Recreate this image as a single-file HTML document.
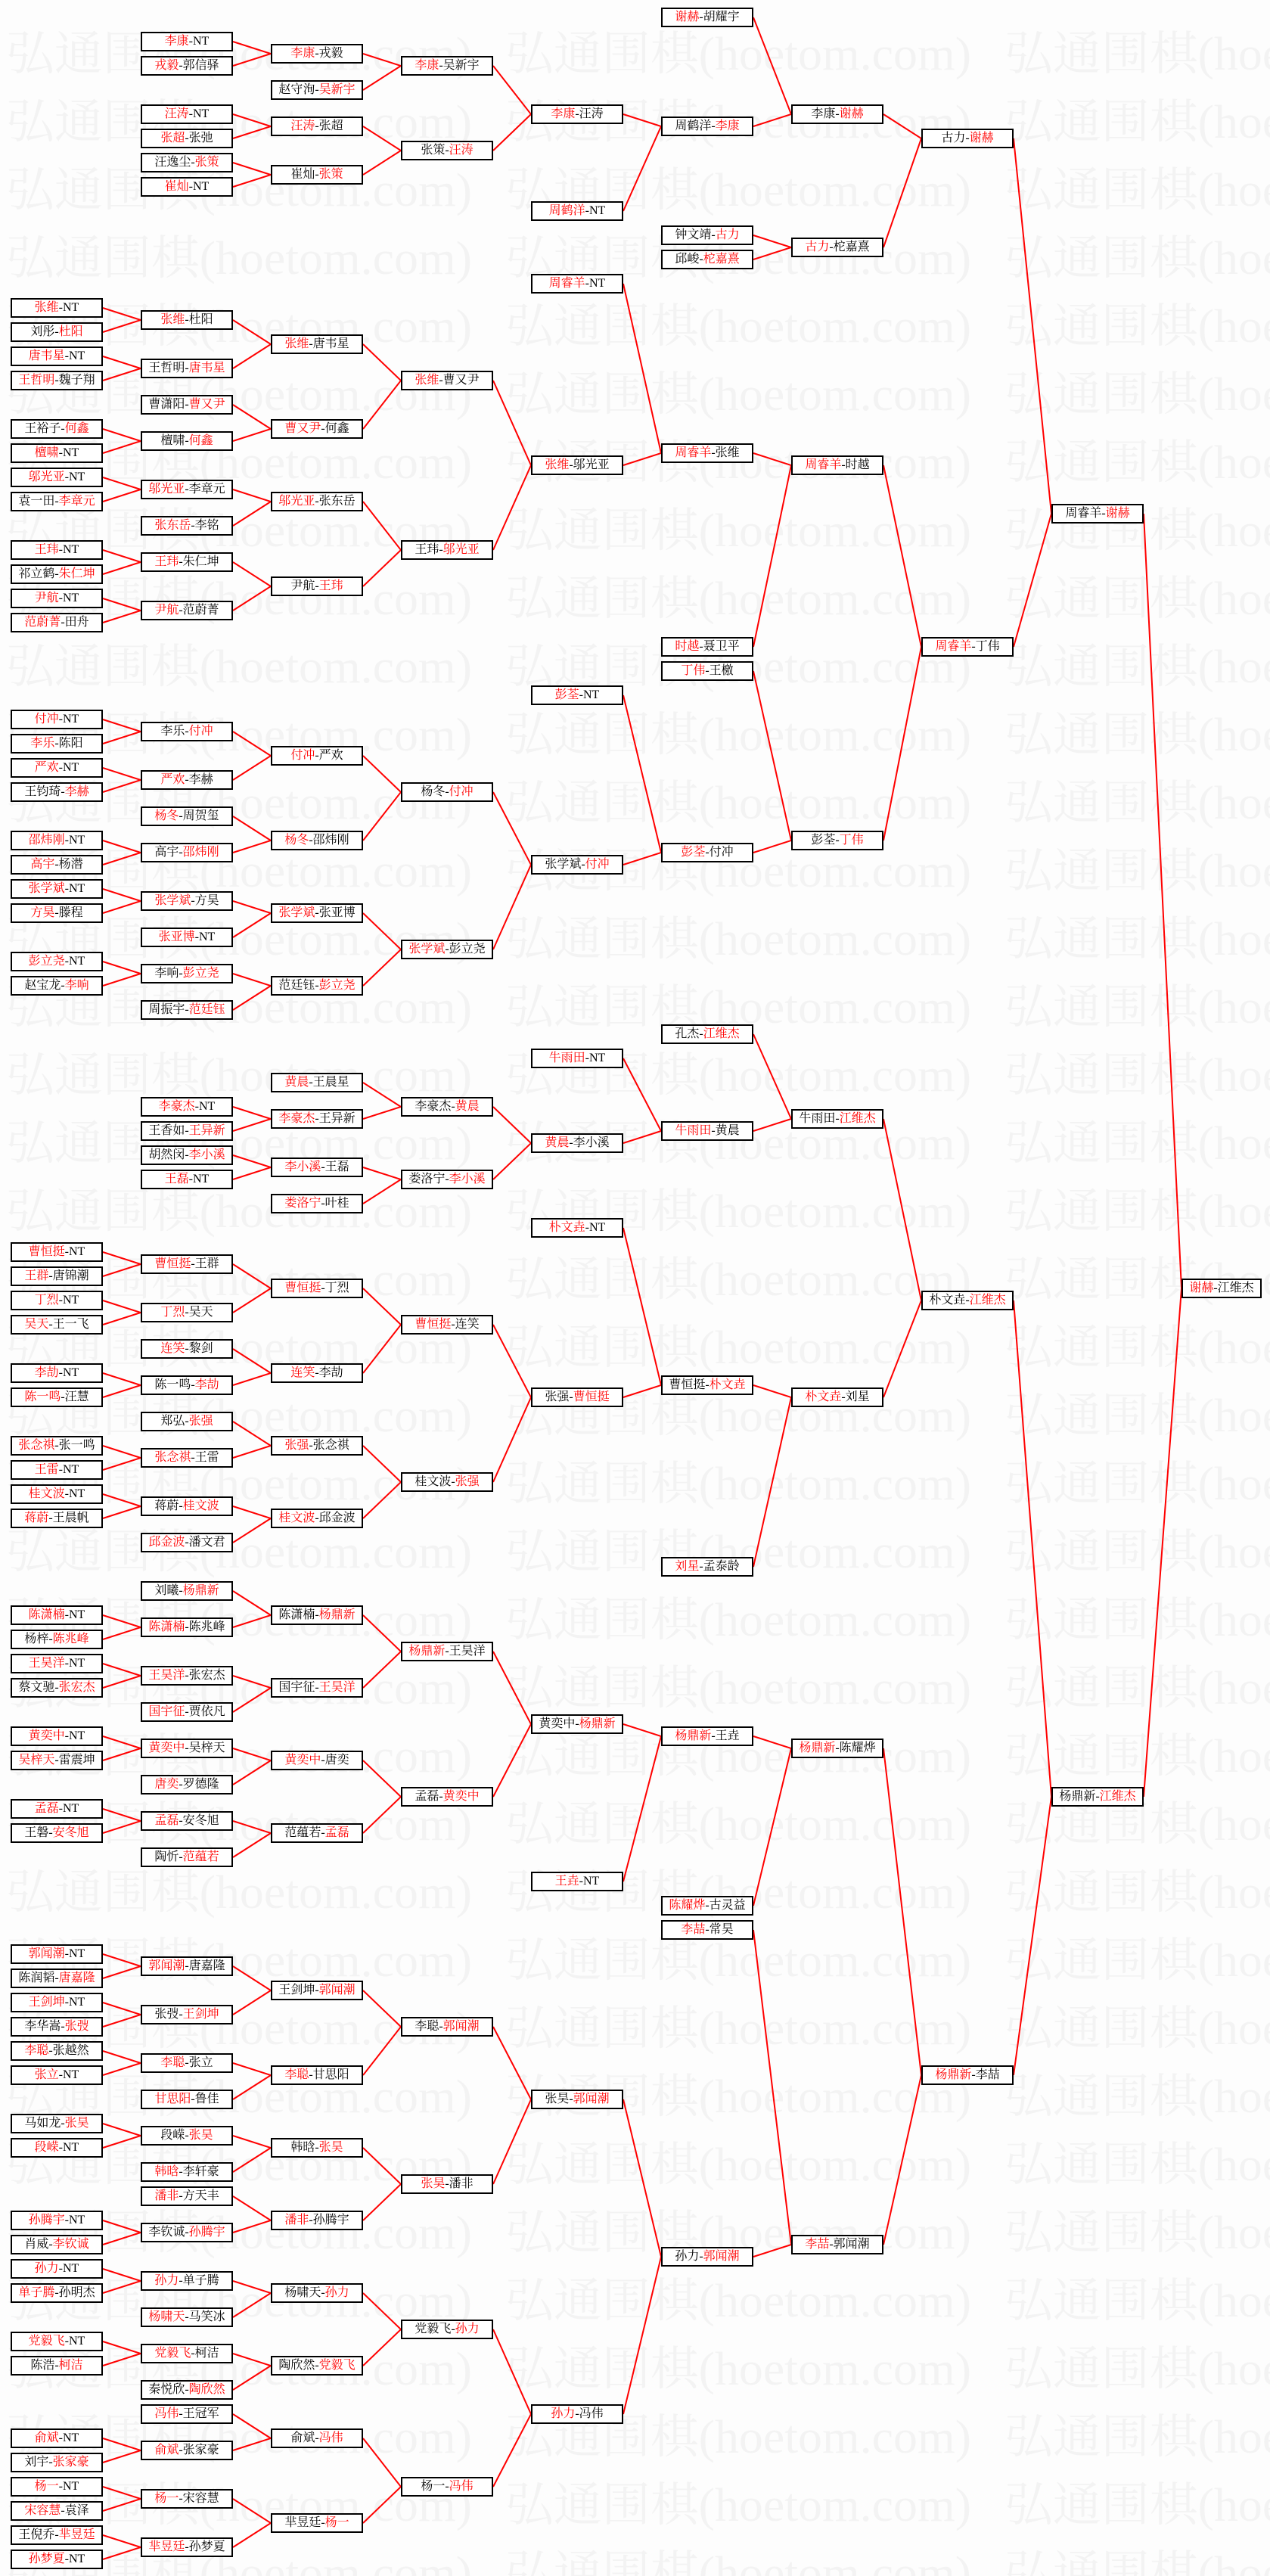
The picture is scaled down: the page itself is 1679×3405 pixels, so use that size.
<!DOCTYPE html>
<html>
<head>
<meta charset="utf-8">
<style>
html,body{margin:0;padding:0}
body{width:1679px;height:3405px;position:relative;background:#fdfdfd;overflow:hidden}
svg{position:absolute;left:0;top:0}
.b{position:absolute;width:122px;height:26px;box-sizing:border-box;border:2px solid #000;background:#fff;font-family:"Liberation Serif","Noto Serif CJK SC",serif;font-size:16px;line-height:22px;text-align:center;white-space:nowrap;color:#000;overflow:hidden}
.b i{font-style:normal;color:#f00}
.c0{left:14px}.c1{left:186px}.c2{left:358px}.c3{left:530px}.c4{left:702px}.c5{left:874px}.c6{left:1046px}.c7{left:1218px}.c8{left:1390px}.c9{left:1562px;width:106px}
.wm text{font-family:"Liberation Serif","Noto Serif CJK SC",serif;font-size:62px;fill:#f3f3f3}
</style>
</head>
<body>
<svg class="wm" width="1679" height="3405">
<text x="8" y="92" textLength="616" lengthAdjust="spacingAndGlyphs">弘通围棋(hoetom.com)</text><text x="668" y="92" textLength="616" lengthAdjust="spacingAndGlyphs">弘通围棋(hoetom.com)</text><text x="1328" y="92" textLength="616" lengthAdjust="spacingAndGlyphs">弘通围棋(hoetom.com)</text>
<text x="8" y="182" textLength="616" lengthAdjust="spacingAndGlyphs">弘通围棋(hoetom.com)</text><text x="668" y="182" textLength="616" lengthAdjust="spacingAndGlyphs">弘通围棋(hoetom.com)</text><text x="1328" y="182" textLength="616" lengthAdjust="spacingAndGlyphs">弘通围棋(hoetom.com)</text>
<text x="8" y="272" textLength="616" lengthAdjust="spacingAndGlyphs">弘通围棋(hoetom.com)</text><text x="668" y="272" textLength="616" lengthAdjust="spacingAndGlyphs">弘通围棋(hoetom.com)</text><text x="1328" y="272" textLength="616" lengthAdjust="spacingAndGlyphs">弘通围棋(hoetom.com)</text>
<text x="8" y="362" textLength="616" lengthAdjust="spacingAndGlyphs">弘通围棋(hoetom.com)</text><text x="668" y="362" textLength="616" lengthAdjust="spacingAndGlyphs">弘通围棋(hoetom.com)</text><text x="1328" y="362" textLength="616" lengthAdjust="spacingAndGlyphs">弘通围棋(hoetom.com)</text>
<text x="8" y="452" textLength="616" lengthAdjust="spacingAndGlyphs">弘通围棋(hoetom.com)</text><text x="668" y="452" textLength="616" lengthAdjust="spacingAndGlyphs">弘通围棋(hoetom.com)</text><text x="1328" y="452" textLength="616" lengthAdjust="spacingAndGlyphs">弘通围棋(hoetom.com)</text>
<text x="8" y="542" textLength="616" lengthAdjust="spacingAndGlyphs">弘通围棋(hoetom.com)</text><text x="668" y="542" textLength="616" lengthAdjust="spacingAndGlyphs">弘通围棋(hoetom.com)</text><text x="1328" y="542" textLength="616" lengthAdjust="spacingAndGlyphs">弘通围棋(hoetom.com)</text>
<text x="8" y="632" textLength="616" lengthAdjust="spacingAndGlyphs">弘通围棋(hoetom.com)</text><text x="668" y="632" textLength="616" lengthAdjust="spacingAndGlyphs">弘通围棋(hoetom.com)</text><text x="1328" y="632" textLength="616" lengthAdjust="spacingAndGlyphs">弘通围棋(hoetom.com)</text>
<text x="8" y="722" textLength="616" lengthAdjust="spacingAndGlyphs">弘通围棋(hoetom.com)</text><text x="668" y="722" textLength="616" lengthAdjust="spacingAndGlyphs">弘通围棋(hoetom.com)</text><text x="1328" y="722" textLength="616" lengthAdjust="spacingAndGlyphs">弘通围棋(hoetom.com)</text>
<text x="8" y="812" textLength="616" lengthAdjust="spacingAndGlyphs">弘通围棋(hoetom.com)</text><text x="668" y="812" textLength="616" lengthAdjust="spacingAndGlyphs">弘通围棋(hoetom.com)</text><text x="1328" y="812" textLength="616" lengthAdjust="spacingAndGlyphs">弘通围棋(hoetom.com)</text>
<text x="8" y="902" textLength="616" lengthAdjust="spacingAndGlyphs">弘通围棋(hoetom.com)</text><text x="668" y="902" textLength="616" lengthAdjust="spacingAndGlyphs">弘通围棋(hoetom.com)</text><text x="1328" y="902" textLength="616" lengthAdjust="spacingAndGlyphs">弘通围棋(hoetom.com)</text>
<text x="8" y="992" textLength="616" lengthAdjust="spacingAndGlyphs">弘通围棋(hoetom.com)</text><text x="668" y="992" textLength="616" lengthAdjust="spacingAndGlyphs">弘通围棋(hoetom.com)</text><text x="1328" y="992" textLength="616" lengthAdjust="spacingAndGlyphs">弘通围棋(hoetom.com)</text>
<text x="8" y="1082" textLength="616" lengthAdjust="spacingAndGlyphs">弘通围棋(hoetom.com)</text><text x="668" y="1082" textLength="616" lengthAdjust="spacingAndGlyphs">弘通围棋(hoetom.com)</text><text x="1328" y="1082" textLength="616" lengthAdjust="spacingAndGlyphs">弘通围棋(hoetom.com)</text>
<text x="8" y="1172" textLength="616" lengthAdjust="spacingAndGlyphs">弘通围棋(hoetom.com)</text><text x="668" y="1172" textLength="616" lengthAdjust="spacingAndGlyphs">弘通围棋(hoetom.com)</text><text x="1328" y="1172" textLength="616" lengthAdjust="spacingAndGlyphs">弘通围棋(hoetom.com)</text>
<text x="8" y="1262" textLength="616" lengthAdjust="spacingAndGlyphs">弘通围棋(hoetom.com)</text><text x="668" y="1262" textLength="616" lengthAdjust="spacingAndGlyphs">弘通围棋(hoetom.com)</text><text x="1328" y="1262" textLength="616" lengthAdjust="spacingAndGlyphs">弘通围棋(hoetom.com)</text>
<text x="8" y="1352" textLength="616" lengthAdjust="spacingAndGlyphs">弘通围棋(hoetom.com)</text><text x="668" y="1352" textLength="616" lengthAdjust="spacingAndGlyphs">弘通围棋(hoetom.com)</text><text x="1328" y="1352" textLength="616" lengthAdjust="spacingAndGlyphs">弘通围棋(hoetom.com)</text>
<text x="8" y="1442" textLength="616" lengthAdjust="spacingAndGlyphs">弘通围棋(hoetom.com)</text><text x="668" y="1442" textLength="616" lengthAdjust="spacingAndGlyphs">弘通围棋(hoetom.com)</text><text x="1328" y="1442" textLength="616" lengthAdjust="spacingAndGlyphs">弘通围棋(hoetom.com)</text>
<text x="8" y="1532" textLength="616" lengthAdjust="spacingAndGlyphs">弘通围棋(hoetom.com)</text><text x="668" y="1532" textLength="616" lengthAdjust="spacingAndGlyphs">弘通围棋(hoetom.com)</text><text x="1328" y="1532" textLength="616" lengthAdjust="spacingAndGlyphs">弘通围棋(hoetom.com)</text>
<text x="8" y="1622" textLength="616" lengthAdjust="spacingAndGlyphs">弘通围棋(hoetom.com)</text><text x="668" y="1622" textLength="616" lengthAdjust="spacingAndGlyphs">弘通围棋(hoetom.com)</text><text x="1328" y="1622" textLength="616" lengthAdjust="spacingAndGlyphs">弘通围棋(hoetom.com)</text>
<text x="8" y="1712" textLength="616" lengthAdjust="spacingAndGlyphs">弘通围棋(hoetom.com)</text><text x="668" y="1712" textLength="616" lengthAdjust="spacingAndGlyphs">弘通围棋(hoetom.com)</text><text x="1328" y="1712" textLength="616" lengthAdjust="spacingAndGlyphs">弘通围棋(hoetom.com)</text>
<text x="8" y="1802" textLength="616" lengthAdjust="spacingAndGlyphs">弘通围棋(hoetom.com)</text><text x="668" y="1802" textLength="616" lengthAdjust="spacingAndGlyphs">弘通围棋(hoetom.com)</text><text x="1328" y="1802" textLength="616" lengthAdjust="spacingAndGlyphs">弘通围棋(hoetom.com)</text>
<text x="8" y="1892" textLength="616" lengthAdjust="spacingAndGlyphs">弘通围棋(hoetom.com)</text><text x="668" y="1892" textLength="616" lengthAdjust="spacingAndGlyphs">弘通围棋(hoetom.com)</text><text x="1328" y="1892" textLength="616" lengthAdjust="spacingAndGlyphs">弘通围棋(hoetom.com)</text>
<text x="8" y="1982" textLength="616" lengthAdjust="spacingAndGlyphs">弘通围棋(hoetom.com)</text><text x="668" y="1982" textLength="616" lengthAdjust="spacingAndGlyphs">弘通围棋(hoetom.com)</text><text x="1328" y="1982" textLength="616" lengthAdjust="spacingAndGlyphs">弘通围棋(hoetom.com)</text>
<text x="8" y="2072" textLength="616" lengthAdjust="spacingAndGlyphs">弘通围棋(hoetom.com)</text><text x="668" y="2072" textLength="616" lengthAdjust="spacingAndGlyphs">弘通围棋(hoetom.com)</text><text x="1328" y="2072" textLength="616" lengthAdjust="spacingAndGlyphs">弘通围棋(hoetom.com)</text>
<text x="8" y="2162" textLength="616" lengthAdjust="spacingAndGlyphs">弘通围棋(hoetom.com)</text><text x="668" y="2162" textLength="616" lengthAdjust="spacingAndGlyphs">弘通围棋(hoetom.com)</text><text x="1328" y="2162" textLength="616" lengthAdjust="spacingAndGlyphs">弘通围棋(hoetom.com)</text>
<text x="8" y="2252" textLength="616" lengthAdjust="spacingAndGlyphs">弘通围棋(hoetom.com)</text><text x="668" y="2252" textLength="616" lengthAdjust="spacingAndGlyphs">弘通围棋(hoetom.com)</text><text x="1328" y="2252" textLength="616" lengthAdjust="spacingAndGlyphs">弘通围棋(hoetom.com)</text>
<text x="8" y="2342" textLength="616" lengthAdjust="spacingAndGlyphs">弘通围棋(hoetom.com)</text><text x="668" y="2342" textLength="616" lengthAdjust="spacingAndGlyphs">弘通围棋(hoetom.com)</text><text x="1328" y="2342" textLength="616" lengthAdjust="spacingAndGlyphs">弘通围棋(hoetom.com)</text>
<text x="8" y="2432" textLength="616" lengthAdjust="spacingAndGlyphs">弘通围棋(hoetom.com)</text><text x="668" y="2432" textLength="616" lengthAdjust="spacingAndGlyphs">弘通围棋(hoetom.com)</text><text x="1328" y="2432" textLength="616" lengthAdjust="spacingAndGlyphs">弘通围棋(hoetom.com)</text>
<text x="8" y="2522" textLength="616" lengthAdjust="spacingAndGlyphs">弘通围棋(hoetom.com)</text><text x="668" y="2522" textLength="616" lengthAdjust="spacingAndGlyphs">弘通围棋(hoetom.com)</text><text x="1328" y="2522" textLength="616" lengthAdjust="spacingAndGlyphs">弘通围棋(hoetom.com)</text>
<text x="8" y="2612" textLength="616" lengthAdjust="spacingAndGlyphs">弘通围棋(hoetom.com)</text><text x="668" y="2612" textLength="616" lengthAdjust="spacingAndGlyphs">弘通围棋(hoetom.com)</text><text x="1328" y="2612" textLength="616" lengthAdjust="spacingAndGlyphs">弘通围棋(hoetom.com)</text>
<text x="8" y="2702" textLength="616" lengthAdjust="spacingAndGlyphs">弘通围棋(hoetom.com)</text><text x="668" y="2702" textLength="616" lengthAdjust="spacingAndGlyphs">弘通围棋(hoetom.com)</text><text x="1328" y="2702" textLength="616" lengthAdjust="spacingAndGlyphs">弘通围棋(hoetom.com)</text>
<text x="8" y="2792" textLength="616" lengthAdjust="spacingAndGlyphs">弘通围棋(hoetom.com)</text><text x="668" y="2792" textLength="616" lengthAdjust="spacingAndGlyphs">弘通围棋(hoetom.com)</text><text x="1328" y="2792" textLength="616" lengthAdjust="spacingAndGlyphs">弘通围棋(hoetom.com)</text>
<text x="8" y="2882" textLength="616" lengthAdjust="spacingAndGlyphs">弘通围棋(hoetom.com)</text><text x="668" y="2882" textLength="616" lengthAdjust="spacingAndGlyphs">弘通围棋(hoetom.com)</text><text x="1328" y="2882" textLength="616" lengthAdjust="spacingAndGlyphs">弘通围棋(hoetom.com)</text>
<text x="8" y="2972" textLength="616" lengthAdjust="spacingAndGlyphs">弘通围棋(hoetom.com)</text><text x="668" y="2972" textLength="616" lengthAdjust="spacingAndGlyphs">弘通围棋(hoetom.com)</text><text x="1328" y="2972" textLength="616" lengthAdjust="spacingAndGlyphs">弘通围棋(hoetom.com)</text>
<text x="8" y="3062" textLength="616" lengthAdjust="spacingAndGlyphs">弘通围棋(hoetom.com)</text><text x="668" y="3062" textLength="616" lengthAdjust="spacingAndGlyphs">弘通围棋(hoetom.com)</text><text x="1328" y="3062" textLength="616" lengthAdjust="spacingAndGlyphs">弘通围棋(hoetom.com)</text>
<text x="8" y="3152" textLength="616" lengthAdjust="spacingAndGlyphs">弘通围棋(hoetom.com)</text><text x="668" y="3152" textLength="616" lengthAdjust="spacingAndGlyphs">弘通围棋(hoetom.com)</text><text x="1328" y="3152" textLength="616" lengthAdjust="spacingAndGlyphs">弘通围棋(hoetom.com)</text>
<text x="8" y="3242" textLength="616" lengthAdjust="spacingAndGlyphs">弘通围棋(hoetom.com)</text><text x="668" y="3242" textLength="616" lengthAdjust="spacingAndGlyphs">弘通围棋(hoetom.com)</text><text x="1328" y="3242" textLength="616" lengthAdjust="spacingAndGlyphs">弘通围棋(hoetom.com)</text>
<text x="8" y="3332" textLength="616" lengthAdjust="spacingAndGlyphs">弘通围棋(hoetom.com)</text><text x="668" y="3332" textLength="616" lengthAdjust="spacingAndGlyphs">弘通围棋(hoetom.com)</text><text x="1328" y="3332" textLength="616" lengthAdjust="spacingAndGlyphs">弘通围棋(hoetom.com)</text>
<text x="8" y="3422" textLength="616" lengthAdjust="spacingAndGlyphs">弘通围棋(hoetom.com)</text><text x="668" y="3422" textLength="616" lengthAdjust="spacingAndGlyphs">弘通围棋(hoetom.com)</text><text x="1328" y="3422" textLength="616" lengthAdjust="spacingAndGlyphs">弘通围棋(hoetom.com)</text>
</svg>
<svg width="1679" height="3405" fill="none" stroke="#f00" stroke-width="2" stroke-linejoin="miter">
<path d="M136 407L186 423L136 439"/><path d="M136 471L186 487L136 503"/><path d="M136 567L186 583L136 599"/><path d="M136 631L186 647L136 663"/><path d="M136 727L186 743L136 759"/><path d="M136 791L186 807L136 823"/><path d="M136 951L186 967L136 983"/><path d="M136 1015L186 1031L136 1047"/><path d="M136 1111L186 1127L136 1143"/><path d="M136 1175L186 1191L136 1207"/><path d="M136 1271L186 1287L136 1303"/><path d="M136 1655L186 1671L136 1687"/><path d="M136 1719L186 1735L136 1751"/><path d="M136 1815L186 1831L136 1847"/><path d="M136 1911L186 1927L136 1943"/><path d="M136 1975L186 1991L136 2007"/><path d="M136 2135L186 2151L136 2167"/><path d="M136 2199L186 2215L136 2231"/><path d="M136 2295L186 2311L136 2327"/><path d="M136 2391L186 2407L136 2423"/><path d="M136 2583L186 2599L136 2615"/><path d="M136 2647L186 2663L136 2679"/><path d="M136 2711L186 2727L136 2743"/><path d="M136 2807L186 2823L136 2839"/><path d="M136 2935L186 2951L136 2967"/><path d="M136 2999L186 3015L136 3031"/><path d="M136 3095L186 3111L136 3127"/><path d="M136 3223L186 3239L136 3255"/><path d="M136 3287L186 3303L136 3319"/><path d="M136 3351L186 3367L136 3383"/>
<path d="M308 55L358 71L308 87"/><path d="M308 151L358 167L308 183"/><path d="M308 215L358 231L308 247"/><path d="M308 423L358 455L308 487"/><path d="M308 535L358 567L308 583"/><path d="M308 647L358 663L308 695"/><path d="M308 743L358 775L308 807"/><path d="M308 967L358 999L308 1031"/><path d="M308 1079L358 1111L308 1127"/><path d="M308 1191L358 1207L308 1239"/><path d="M308 1287L358 1303L308 1335"/><path d="M308 1463L358 1479L308 1495"/><path d="M308 1527L358 1543L308 1559"/><path d="M308 1671L358 1703L308 1735"/><path d="M308 1783L358 1815L308 1831"/><path d="M308 1879L358 1911L308 1927"/><path d="M308 1991L358 2007L308 2039"/><path d="M308 2103L358 2135L308 2151"/><path d="M308 2215L358 2231L308 2263"/><path d="M308 2311L358 2327L308 2359"/><path d="M308 2407L358 2423L308 2455"/><path d="M308 2599L358 2631L308 2663"/><path d="M308 2727L358 2743L308 2775"/><path d="M308 2823L358 2839L308 2871"/><path d="M308 2903L358 2935L308 2951"/><path d="M308 3015L358 3031L308 3063"/><path d="M308 3111L358 3127L308 3159"/><path d="M308 3191L358 3223L308 3239"/><path d="M308 3303L358 3335L308 3367"/>
<path d="M480 71L530 87L480 119"/><path d="M480 167L530 199L480 231"/><path d="M480 455L530 503L480 567"/><path d="M480 663L530 727L480 775"/><path d="M480 999L530 1047L480 1111"/><path d="M480 1207L530 1255L480 1303"/><path d="M480 1431L530 1463L480 1479"/><path d="M480 1543L530 1559L480 1591"/><path d="M480 1703L530 1751L480 1815"/><path d="M480 1911L530 1959L480 2007"/><path d="M480 2135L530 2183L480 2231"/><path d="M480 2327L530 2375L480 2423"/><path d="M480 2631L530 2679L480 2743"/><path d="M480 2839L530 2887L480 2935"/><path d="M480 3031L530 3079L480 3127"/><path d="M480 3223L530 3287L480 3335"/>
<path d="M652 87L702 151L652 199"/><path d="M652 503L702 615L652 727"/><path d="M652 1047L702 1143L652 1255"/><path d="M652 1463L702 1511L652 1559"/><path d="M652 1751L702 1847L652 1959"/><path d="M652 2183L702 2279L652 2375"/><path d="M652 2679L702 2775L652 2887"/><path d="M652 3079L702 3191L652 3287"/>
<path d="M824 151L874 167L824 279"/><path d="M824 375L874 599L824 615"/><path d="M824 919L874 1127L824 1143"/><path d="M824 1399L874 1495L824 1511"/><path d="M824 1623L874 1831L824 1847"/><path d="M824 2279L874 2295L824 2487"/><path d="M824 2775L874 2983L824 3191"/>
<path d="M996 23L1046 151L996 167"/><path d="M996 311L1046 327L996 343"/><path d="M996 599L1046 615L996 855"/><path d="M996 887L1046 1111L996 1127"/><path d="M996 1367L1046 1479L996 1495"/><path d="M996 1831L1046 1847L996 2071"/><path d="M996 2295L1046 2311L996 2519"/><path d="M996 2551L1046 2967L996 2983"/>
<path d="M1168 151L1218 183L1168 327"/><path d="M1168 615L1218 855L1168 1111"/><path d="M1168 1479L1218 1719L1168 1847"/><path d="M1168 2311L1218 2743L1168 2967"/>
<path d="M1340 183L1390 679L1340 855"/><path d="M1340 1719L1390 2375L1340 2743"/>
<path d="M1512 679L1562 1703L1512 2375"/>
</svg>

<div class="b c0" style="top:394px"><i>张维</i>-NT</div>
<div class="b c0" style="top:426px">刘彤-<i>杜阳</i></div>
<div class="b c0" style="top:458px"><i>唐韦星</i>-NT</div>
<div class="b c0" style="top:490px"><i>王哲明</i>-魏子翔</div>
<div class="b c0" style="top:554px">王裕子-<i>何鑫</i></div>
<div class="b c0" style="top:586px"><i>檀啸</i>-NT</div>
<div class="b c0" style="top:618px"><i>邬光亚</i>-NT</div>
<div class="b c0" style="top:650px">袁一田-<i>李章元</i></div>
<div class="b c0" style="top:714px"><i>王玮</i>-NT</div>
<div class="b c0" style="top:746px">祁立鹤-<i>朱仁坤</i></div>
<div class="b c0" style="top:778px"><i>尹航</i>-NT</div>
<div class="b c0" style="top:810px"><i>范蔚菁</i>-田舟</div>
<div class="b c0" style="top:938px"><i>付冲</i>-NT</div>
<div class="b c0" style="top:970px"><i>李乐</i>-陈阳</div>
<div class="b c0" style="top:1002px"><i>严欢</i>-NT</div>
<div class="b c0" style="top:1034px">王钧琦-<i>李赫</i></div>
<div class="b c0" style="top:1098px"><i>邵炜刚</i>-NT</div>
<div class="b c0" style="top:1130px"><i>高宇</i>-杨潜</div>
<div class="b c0" style="top:1162px"><i>张学斌</i>-NT</div>
<div class="b c0" style="top:1194px"><i>方昊</i>-滕程</div>
<div class="b c0" style="top:1258px"><i>彭立尧</i>-NT</div>
<div class="b c0" style="top:1290px">赵宝龙-<i>李响</i></div>
<div class="b c0" style="top:1642px"><i>曹恒挺</i>-NT</div>
<div class="b c0" style="top:1674px"><i>王群</i>-唐锦潮</div>
<div class="b c0" style="top:1706px"><i>丁烈</i>-NT</div>
<div class="b c0" style="top:1738px"><i>吴天</i>-王一飞</div>
<div class="b c0" style="top:1802px"><i>李劼</i>-NT</div>
<div class="b c0" style="top:1834px"><i>陈一鸣</i>-汪慧</div>
<div class="b c0" style="top:1898px"><i>张念祺</i>-张一鸣</div>
<div class="b c0" style="top:1930px"><i>王雷</i>-NT</div>
<div class="b c0" style="top:1962px"><i>桂文波</i>-NT</div>
<div class="b c0" style="top:1994px"><i>蒋蔚</i>-王晨帆</div>
<div class="b c0" style="top:2122px"><i>陈潇楠</i>-NT</div>
<div class="b c0" style="top:2154px">杨梓-<i>陈兆峰</i></div>
<div class="b c0" style="top:2186px"><i>王昊洋</i>-NT</div>
<div class="b c0" style="top:2218px">蔡文驰-<i>张宏杰</i></div>
<div class="b c0" style="top:2282px"><i>黄奕中</i>-NT</div>
<div class="b c0" style="top:2314px"><i>吴梓天</i>-雷震坤</div>
<div class="b c0" style="top:2378px"><i>孟磊</i>-NT</div>
<div class="b c0" style="top:2410px">王磐-<i>安冬旭</i></div>
<div class="b c0" style="top:2570px"><i>郭闻潮</i>-NT</div>
<div class="b c0" style="top:2602px">陈润韬-<i>唐嘉隆</i></div>
<div class="b c0" style="top:2634px"><i>王剑坤</i>-NT</div>
<div class="b c0" style="top:2666px">李华嵩-<i>张弢</i></div>
<div class="b c0" style="top:2698px"><i>李聪</i>-张越然</div>
<div class="b c0" style="top:2730px"><i>张立</i>-NT</div>
<div class="b c0" style="top:2794px">马如龙-<i>张昊</i></div>
<div class="b c0" style="top:2826px"><i>段嵘</i>-NT</div>
<div class="b c0" style="top:2922px"><i>孙腾宇</i>-NT</div>
<div class="b c0" style="top:2954px">肖威-<i>李钦诚</i></div>
<div class="b c0" style="top:2986px"><i>孙力</i>-NT</div>
<div class="b c0" style="top:3018px"><i>单子腾</i>-孙明杰</div>
<div class="b c0" style="top:3082px"><i>党毅飞</i>-NT</div>
<div class="b c0" style="top:3114px">陈浩-<i>柯洁</i></div>
<div class="b c0" style="top:3210px"><i>俞斌</i>-NT</div>
<div class="b c0" style="top:3242px">刘宇-<i>张家豪</i></div>
<div class="b c0" style="top:3274px"><i>杨一</i>-NT</div>
<div class="b c0" style="top:3306px"><i>宋容慧</i>-袁泽</div>
<div class="b c0" style="top:3338px">王倪乔-<i>芈昱廷</i></div>
<div class="b c0" style="top:3370px"><i>孙梦夏</i>-NT</div>

<div class="b c1" style="top:42px"><i>李康</i>-NT</div>
<div class="b c1" style="top:74px"><i>戎毅</i>-郭信驿</div>
<div class="b c1" style="top:138px"><i>汪涛</i>-NT</div>
<div class="b c1" style="top:170px"><i>张超</i>-张弛</div>
<div class="b c1" style="top:202px">汪逸尘-<i>张策</i></div>
<div class="b c1" style="top:234px"><i>崔灿</i>-NT</div>
<div class="b c1" style="top:410px"><i>张维</i>-杜阳</div>
<div class="b c1" style="top:474px">王哲明-<i>唐韦星</i></div>
<div class="b c1" style="top:522px">曹潇阳-<i>曹又尹</i></div>
<div class="b c1" style="top:570px">檀啸-<i>何鑫</i></div>
<div class="b c1" style="top:634px"><i>邬光亚</i>-李章元</div>
<div class="b c1" style="top:682px"><i>张东岳</i>-李铭</div>
<div class="b c1" style="top:730px"><i>王玮</i>-朱仁坤</div>
<div class="b c1" style="top:794px"><i>尹航</i>-范蔚菁</div>
<div class="b c1" style="top:954px">李乐-<i>付冲</i></div>
<div class="b c1" style="top:1018px"><i>严欢</i>-李赫</div>
<div class="b c1" style="top:1066px"><i>杨冬</i>-周贺玺</div>
<div class="b c1" style="top:1114px">高宇-<i>邵炜刚</i></div>
<div class="b c1" style="top:1178px"><i>张学斌</i>-方昊</div>
<div class="b c1" style="top:1226px"><i>张亚博</i>-NT</div>
<div class="b c1" style="top:1274px">李响-<i>彭立尧</i></div>
<div class="b c1" style="top:1322px">周振宇-<i>范廷钰</i></div>
<div class="b c1" style="top:1450px"><i>李豪杰</i>-NT</div>
<div class="b c1" style="top:1482px">王香如-<i>王异新</i></div>
<div class="b c1" style="top:1514px">胡然闵-<i>李小溪</i></div>
<div class="b c1" style="top:1546px"><i>王磊</i>-NT</div>
<div class="b c1" style="top:1658px"><i>曹恒挺</i>-王群</div>
<div class="b c1" style="top:1722px"><i>丁烈</i>-吴天</div>
<div class="b c1" style="top:1770px"><i>连笑</i>-黎剑</div>
<div class="b c1" style="top:1818px">陈一鸣-<i>李劼</i></div>
<div class="b c1" style="top:1866px">郑弘-<i>张强</i></div>
<div class="b c1" style="top:1914px"><i>张念祺</i>-王雷</div>
<div class="b c1" style="top:1978px">蒋蔚-<i>桂文波</i></div>
<div class="b c1" style="top:2026px"><i>邱金波</i>-潘文君</div>
<div class="b c1" style="top:2090px">刘曦-<i>杨鼎新</i></div>
<div class="b c1" style="top:2138px"><i>陈潇楠</i>-陈兆峰</div>
<div class="b c1" style="top:2202px"><i>王昊洋</i>-张宏杰</div>
<div class="b c1" style="top:2250px"><i>国宇征</i>-贾依凡</div>
<div class="b c1" style="top:2298px"><i>黄奕中</i>-吴梓天</div>
<div class="b c1" style="top:2346px"><i>唐奕</i>-罗德隆</div>
<div class="b c1" style="top:2394px"><i>孟磊</i>-安冬旭</div>
<div class="b c1" style="top:2442px">陶忻-<i>范蕴若</i></div>
<div class="b c1" style="top:2586px"><i>郭闻潮</i>-唐嘉隆</div>
<div class="b c1" style="top:2650px">张弢-<i>王剑坤</i></div>
<div class="b c1" style="top:2714px"><i>李聪</i>-张立</div>
<div class="b c1" style="top:2762px"><i>甘思阳</i>-鲁佳</div>
<div class="b c1" style="top:2810px">段嵘-<i>张昊</i></div>
<div class="b c1" style="top:2858px"><i>韩晗</i>-李轩豪</div>
<div class="b c1" style="top:2890px"><i>潘非</i>-方天丰</div>
<div class="b c1" style="top:2938px">李钦诚-<i>孙腾宇</i></div>
<div class="b c1" style="top:3002px"><i>孙力</i>-单子腾</div>
<div class="b c1" style="top:3050px"><i>杨啸天</i>-马笑冰</div>
<div class="b c1" style="top:3098px"><i>党毅飞</i>-柯洁</div>
<div class="b c1" style="top:3146px">秦悦欣-<i>陶欣然</i></div>
<div class="b c1" style="top:3178px"><i>冯伟</i>-王冠军</div>
<div class="b c1" style="top:3226px"><i>俞斌</i>-张家豪</div>
<div class="b c1" style="top:3290px"><i>杨一</i>-宋容慧</div>
<div class="b c1" style="top:3354px"><i>芈昱廷</i>-孙梦夏</div>

<div class="b c2" style="top:58px"><i>李康</i>-戎毅</div>
<div class="b c2" style="top:106px">赵守洵-<i>吴新宇</i></div>
<div class="b c2" style="top:154px"><i>汪涛</i>-张超</div>
<div class="b c2" style="top:218px">崔灿-<i>张策</i></div>
<div class="b c2" style="top:442px"><i>张维</i>-唐韦星</div>
<div class="b c2" style="top:554px"><i>曹又尹</i>-何鑫</div>
<div class="b c2" style="top:650px"><i>邬光亚</i>-张东岳</div>
<div class="b c2" style="top:762px">尹航-<i>王玮</i></div>
<div class="b c2" style="top:986px"><i>付冲</i>-严欢</div>
<div class="b c2" style="top:1098px"><i>杨冬</i>-邵炜刚</div>
<div class="b c2" style="top:1194px"><i>张学斌</i>-张亚博</div>
<div class="b c2" style="top:1290px">范廷钰-<i>彭立尧</i></div>
<div class="b c2" style="top:1418px"><i>黄晨</i>-王晨星</div>
<div class="b c2" style="top:1466px"><i>李豪杰</i>-王异新</div>
<div class="b c2" style="top:1530px"><i>李小溪</i>-王磊</div>
<div class="b c2" style="top:1578px"><i>娄洛宁</i>-叶桂</div>
<div class="b c2" style="top:1690px"><i>曹恒挺</i>-丁烈</div>
<div class="b c2" style="top:1802px"><i>连笑</i>-李劼</div>
<div class="b c2" style="top:1898px"><i>张强</i>-张念祺</div>
<div class="b c2" style="top:1994px"><i>桂文波</i>-邱金波</div>
<div class="b c2" style="top:2122px">陈潇楠-<i>杨鼎新</i></div>
<div class="b c2" style="top:2218px">国宇征-<i>王昊洋</i></div>
<div class="b c2" style="top:2314px"><i>黄奕中</i>-唐奕</div>
<div class="b c2" style="top:2410px">范蕴若-<i>孟磊</i></div>
<div class="b c2" style="top:2618px">王剑坤-<i>郭闻潮</i></div>
<div class="b c2" style="top:2730px"><i>李聪</i>-甘思阳</div>
<div class="b c2" style="top:2826px">韩晗-<i>张昊</i></div>
<div class="b c2" style="top:2922px"><i>潘非</i>-孙腾宇</div>
<div class="b c2" style="top:3018px">杨啸天-<i>孙力</i></div>
<div class="b c2" style="top:3114px">陶欣然-<i>党毅飞</i></div>
<div class="b c2" style="top:3210px">俞斌-<i>冯伟</i></div>
<div class="b c2" style="top:3322px">芈昱廷-<i>杨一</i></div>

<div class="b c3" style="top:74px"><i>李康</i>-吴新宇</div>
<div class="b c3" style="top:186px">张策-<i>汪涛</i></div>
<div class="b c3" style="top:490px"><i>张维</i>-曹又尹</div>
<div class="b c3" style="top:714px">王玮-<i>邬光亚</i></div>
<div class="b c3" style="top:1034px">杨冬-<i>付冲</i></div>
<div class="b c3" style="top:1242px"><i>张学斌</i>-彭立尧</div>
<div class="b c3" style="top:1450px">李豪杰-<i>黄晨</i></div>
<div class="b c3" style="top:1546px">娄洛宁-<i>李小溪</i></div>
<div class="b c3" style="top:1738px"><i>曹恒挺</i>-连笑</div>
<div class="b c3" style="top:1946px">桂文波-<i>张强</i></div>
<div class="b c3" style="top:2170px"><i>杨鼎新</i>-王昊洋</div>
<div class="b c3" style="top:2362px">孟磊-<i>黄奕中</i></div>
<div class="b c3" style="top:2666px">李聪-<i>郭闻潮</i></div>
<div class="b c3" style="top:2874px"><i>张昊</i>-潘非</div>
<div class="b c3" style="top:3066px">党毅飞-<i>孙力</i></div>
<div class="b c3" style="top:3274px">杨一-<i>冯伟</i></div>

<div class="b c4" style="top:138px"><i>李康</i>-汪涛</div>
<div class="b c4" style="top:266px"><i>周鹤洋</i>-NT</div>
<div class="b c4" style="top:362px"><i>周睿羊</i>-NT</div>
<div class="b c4" style="top:602px"><i>张维</i>-邬光亚</div>
<div class="b c4" style="top:906px"><i>彭荃</i>-NT</div>
<div class="b c4" style="top:1130px">张学斌-<i>付冲</i></div>
<div class="b c4" style="top:1386px"><i>牛雨田</i>-NT</div>
<div class="b c4" style="top:1498px"><i>黄晨</i>-李小溪</div>
<div class="b c4" style="top:1610px"><i>朴文垚</i>-NT</div>
<div class="b c4" style="top:1834px">张强-<i>曹恒挺</i></div>
<div class="b c4" style="top:2266px">黄奕中-<i>杨鼎新</i></div>
<div class="b c4" style="top:2474px"><i>王垚</i>-NT</div>
<div class="b c4" style="top:2762px">张昊-<i>郭闻潮</i></div>
<div class="b c4" style="top:3178px"><i>孙力</i>-冯伟</div>

<div class="b c5" style="top:10px"><i>谢赫</i>-胡耀宇</div>
<div class="b c5" style="top:154px">周鹤洋-<i>李康</i></div>
<div class="b c5" style="top:298px">钟文靖-<i>古力</i></div>
<div class="b c5" style="top:330px">邱峻-<i>柁嘉熹</i></div>
<div class="b c5" style="top:586px"><i>周睿羊</i>-张维</div>
<div class="b c5" style="top:842px"><i>时越</i>-聂卫平</div>
<div class="b c5" style="top:874px"><i>丁伟</i>-王檄</div>
<div class="b c5" style="top:1114px"><i>彭荃</i>-付冲</div>
<div class="b c5" style="top:1354px">孔杰-<i>江维杰</i></div>
<div class="b c5" style="top:1482px"><i>牛雨田</i>-黄晨</div>
<div class="b c5" style="top:1818px">曹恒挺-<i>朴文垚</i></div>
<div class="b c5" style="top:2058px"><i>刘星</i>-孟泰龄</div>
<div class="b c5" style="top:2282px"><i>杨鼎新</i>-王垚</div>
<div class="b c5" style="top:2506px"><i>陈耀烨</i>-古灵益</div>
<div class="b c5" style="top:2538px"><i>李喆</i>-常昊</div>
<div class="b c5" style="top:2970px">孙力-<i>郭闻潮</i></div>

<div class="b c6" style="top:138px">李康-<i>谢赫</i></div>
<div class="b c6" style="top:314px"><i>古力</i>-柁嘉熹</div>
<div class="b c6" style="top:602px"><i>周睿羊</i>-时越</div>
<div class="b c6" style="top:1098px">彭荃-<i>丁伟</i></div>
<div class="b c6" style="top:1466px">牛雨田-<i>江维杰</i></div>
<div class="b c6" style="top:1834px"><i>朴文垚</i>-刘星</div>
<div class="b c6" style="top:2298px"><i>杨鼎新</i>-陈耀烨</div>
<div class="b c6" style="top:2954px"><i>李喆</i>-郭闻潮</div>

<div class="b c7" style="top:170px">古力-<i>谢赫</i></div>
<div class="b c7" style="top:842px"><i>周睿羊</i>-丁伟</div>
<div class="b c7" style="top:1706px">朴文垚-<i>江维杰</i></div>
<div class="b c7" style="top:2730px"><i>杨鼎新</i>-李喆</div>

<div class="b c8" style="top:666px">周睿羊-<i>谢赫</i></div>
<div class="b c8" style="top:2362px">杨鼎新-<i>江维杰</i></div>

<div class="b c9" style="top:1690px"><i>谢赫</i>-江维杰</div>
</body>
</html>
